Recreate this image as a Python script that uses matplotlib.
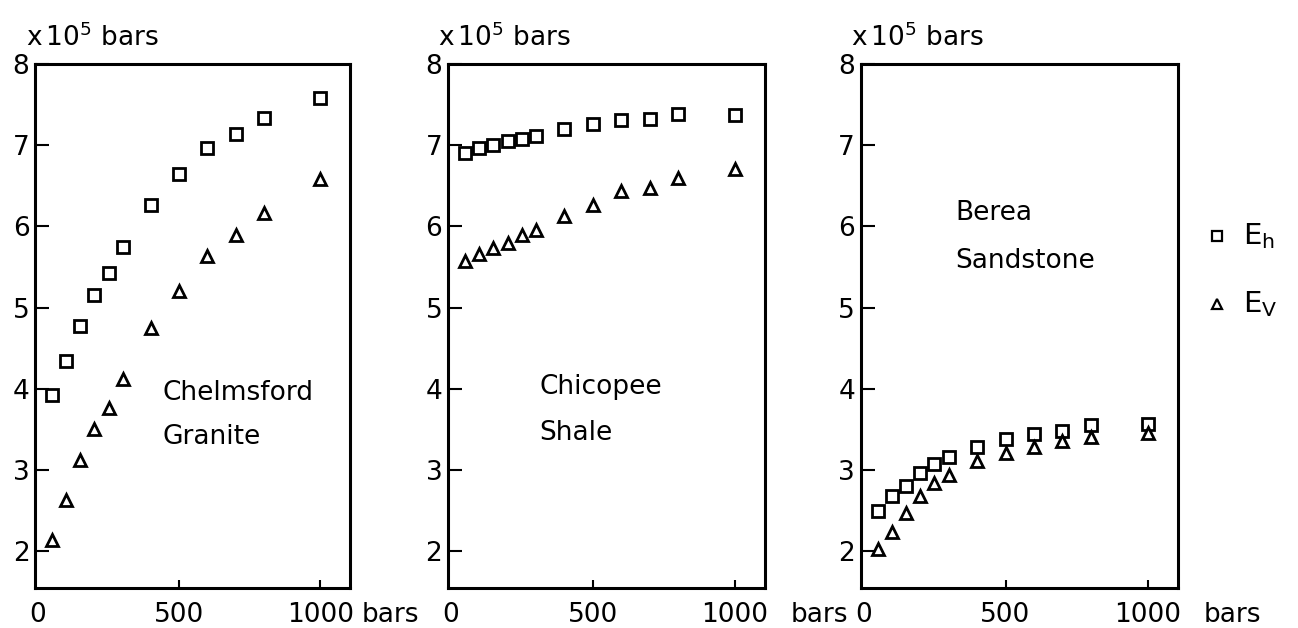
import matplotlib
matplotlib.use("Agg")
import matplotlib.pyplot as plt

# confining pressure (bars)
pressure = [50, 100, 150, 200, 250, 300, 400, 500, 600, 700, 800, 1000]

# moduli, x10^5 bars
granite_eh = [3.93, 4.34, 4.78, 5.16, 5.43, 5.75, 6.27, 6.65, 6.96, 7.14, 7.33, 7.58]
granite_ev = [2.14, 2.63, 3.12, 3.51, 3.77, 4.12, 4.75, 5.21, 5.64, 5.89, 6.16, 6.59]
shale_eh = [6.90, 6.96, 7.00, 7.05, 7.08, 7.11, 7.20, 7.26, 7.31, 7.32, 7.38, 7.37]
shale_ev = [5.58, 5.66, 5.74, 5.80, 5.89, 5.96, 6.13, 6.27, 6.44, 6.47, 6.60, 6.71]
sand_eh = [2.50, 2.68, 2.81, 2.96, 3.08, 3.16, 3.29, 3.38, 3.44, 3.48, 3.56, 3.57]
sand_ev = [2.03, 2.24, 2.47, 2.68, 2.84, 2.94, 3.11, 3.21, 3.29, 3.36, 3.41, 3.46]

rock_names = [["Chelmsford", "Granite"], ["Chicopee", "Shale"], ["Berea", "Sandstone"]]
eh_sets = [granite_eh, shale_eh, sand_eh]
ev_sets = [granite_ev, shale_ev, sand_ev]
xticks = [0, 500, 1000]
yticks = [2, 3, 4, 5, 6, 7, 8]

plt.rcParams['font.family'] = ['DejaVu Sans']
plt.rcParams['mathtext.default'] = 'regular'

fig = plt.figure(figsize=(12.98, 6.28), dpi=100)

lefts = [0.027, 0.345, 0.663]
widths = [0.2427, 0.2442, 0.2442]
name_pos = [(440, 3.95, 3.41), (312, 4.02, 3.46), (322, 6.17, 5.58)]
bars_offset = [30, 40, 40]

fs = 19
mstyle = dict(linestyle='none', markersize=8, markerfacecolor='white',
              markeredgecolor='black', markeredgewidth=2.0)

for i in range(3):
    ax = fig.add_axes([lefts[i], 0.0637, widths[i], 0.8344])
    ax.plot(pressure, eh_sets[i], marker='s', **mstyle)
    ax.plot(pressure, ev_sets[i], marker='^', **mstyle)

    ax.set_xlim(-10, 1105)
    ax.set_ylim(1.55, 8)
    ax.set_xticks(xticks)
    ax.set_yticks(yticks)
    ax.set_xticklabels([str(t) for t in xticks])
    ax.set_yticklabels([str(t) for t in yticks])
    ax.tick_params(axis='y', direction='in', length=10, width=1.5, pad=4, labelsize=fs)
    ax.tick_params(axis='x', direction='in', length=6, width=1.5, pad=10, labelsize=fs)
    # no tick mark at zero, the spine is right there
    ax.xaxis.get_major_ticks()[0].tick1line.set_visible(False)
    for s in ax.spines.values():
        s.set_linewidth(2.2)

    # unit labels
    ax.text(-0.03, 1.034, r'x$\,$10$^5$ bars', transform=ax.transAxes,
            fontsize=fs, ha='left', va='baseline')
    ax.annotate('bars', xy=(1000, 0), xycoords=('data', 'axes fraction'),
                xytext=(bars_offset[i], -10), textcoords='offset points',
                fontsize=fs, ha='left', va='top', annotation_clip=False)

    x0, y1, y2 = name_pos[i]
    ax.text(x0, y1, rock_names[i][0], fontsize=fs, ha='left', va='center')
    ax.text(x0, y2, rock_names[i][1], fontsize=fs, ha='left', va='center')

    if i == 2:
        key = dict(linestyle='none', markersize=7, markerfacecolor='white',
                   markeredgecolor='black', markeredgewidth=1.6, clip_on=False)
        ax.plot([1243], [5.88], marker='s', **key)
        ax.plot([1243], [5.05], marker='^', **key)
        ax.text(1335, 5.88, r'E$_h$', fontsize=fs + 2, ha='left', va='center')
        ax.text(1335, 5.05, r'E$_V$', fontsize=fs + 2, ha='left', va='center')

fig.savefig("out.png", dpi=100)
